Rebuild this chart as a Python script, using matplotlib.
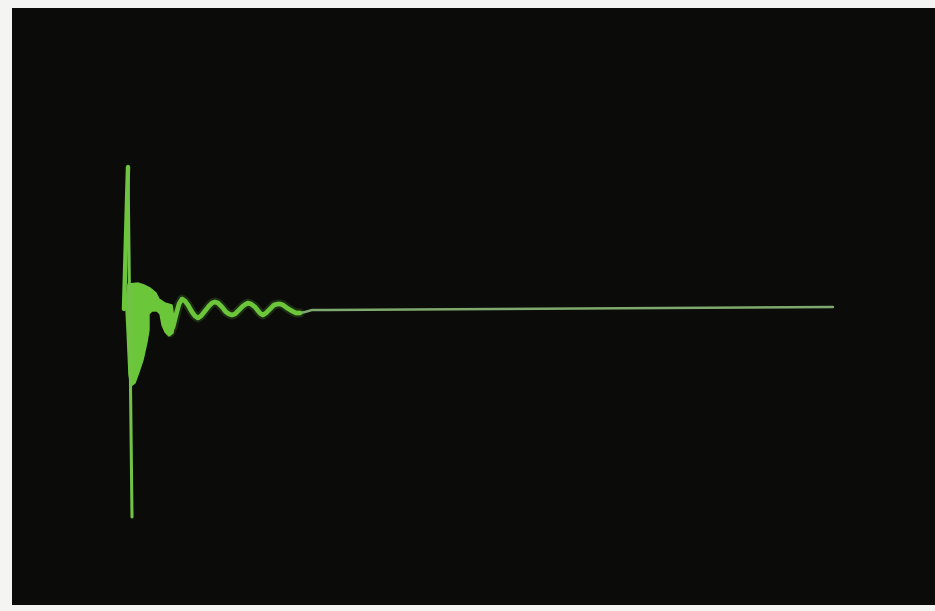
import matplotlib
matplotlib.use("Agg")
import matplotlib.pyplot as plt
from matplotlib.patches import Polygon

# Oscilloscope trace.
# time = horizontal position relative to trigger, amp = vertical deflection (arbitrary units, up = +)
spike_time = [-4, 0, 4]
spike_amp = [0, 142, -208]

# envelope of the dense high-frequency ringing right after the spike
blob_time = [-2, 0, 10, 16, 22, 28, 31, 37, 44, 46, 45, 41, 37, 34, 32, 29, 24, 21, 21, 19,
             15, 11, 7, 3, 1, -1, -2]
blob_amp = [9, 25, 26, 24, 21, 16, 10, 6, 4, -9, -24, -27, -23, -16, -5, -2, -2, -5, -21, -33,
            -51, -63, -74, -77, -66, -21, -1]

# damped ringing that settles onto the baseline
wave_time = [42, 45, 48, 51, 54, 57, 60, 64, 67, 70, 73, 77, 81, 84, 87, 90, 94, 98, 101, 104,
             107, 111, 115, 118, 120, 123, 127, 131, 133, 135, 138, 142, 146, 150, 152, 155, 159,
             164, 168, 172, 177, 184, 192, 200, 705]
wave_amp = [-24, -18, -6, 5, 10, 8, 4, -3, -7, -9, -7, -2, 3, 6, 7, 6, 2, -3, -5, -6,
            -5, -1, 3, 5, 6, 5, 2, -3, -5, -6, -4, 0, 4, 5, 5, 4, 1,
            -2, -4, -4, -3, -1, -1, -1, 2]

W, H = 935, 611
fig = plt.figure(figsize=(W / 100, H / 100), dpi=100, facecolor="#f4f4f2")
ax = fig.add_axes([12 / W, 6 / H, 923 / W, 597 / H])
ax.set_facecolor("#0b0b0a")
ax.set_xlim(-116, 807)
ax.set_ylim(-296, 301)
ax.set_xticks([])
ax.set_yticks([])
for s in ax.spines.values():
    s.set_visible(False)

trace = "#6cc63a"
n_ring = 40

# soft glow around the ringing
ax.plot(wave_time[:n_ring], wave_amp[:n_ring], color=trace, lw=6.5, alpha=0.18,
        solid_joinstyle="round", solid_capstyle="round")

# ringing and baseline
ax.plot(wave_time[n_ring - 1:], wave_amp[n_ring - 1:], color="#7fa86c", lw=1.8,
        solid_joinstyle="round", solid_capstyle="round")
ax.plot(wave_time[:n_ring], wave_amp[:n_ring], color=trace, lw=3.4,
        solid_joinstyle="round", solid_capstyle="round")

# dense ringing blob
ax.add_patch(Polygon(list(zip(blob_time, blob_amp)), closed=True,
                     facecolor=trace, edgecolor=trace, lw=1.0, joinstyle="round"))

# main spike
ax.plot(spike_time[:2], spike_amp[:2], color=trace, lw=3.2, solid_capstyle="round")
ax.plot(spike_time[1:], spike_amp[1:], color="#72c248", lw=2.2, solid_capstyle="round")

fig.savefig("out.png", dpi=100, facecolor=fig.get_facecolor())
